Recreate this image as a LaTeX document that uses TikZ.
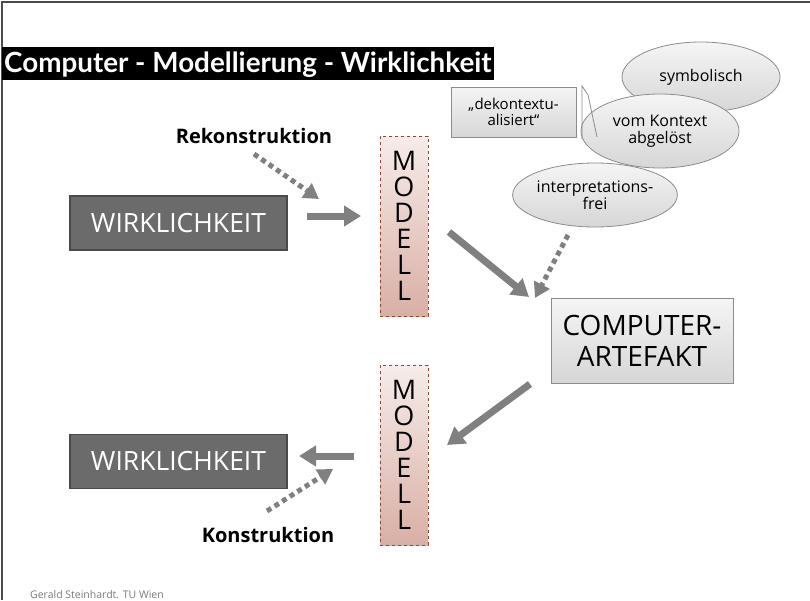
\documentclass[tikz,border=0pt]{standalone}
\usepackage{fontspec}
\setmainfont{Open Sans}
\newfontfamily\titlefont{Lato}
\newfontfamily\handfont{Open Sans}
\usetikzlibrary{arrows.meta,shapes.geometric}
\definecolor{arrowgray}{HTML}{808080}
\definecolor{darkbox}{HTML}{6B6B6B}
\definecolor{darkedge}{HTML}{4A4A4A}
\definecolor{lightedge}{HTML}{8C8C8C}
\definecolor{modtop}{HTML}{F6ECE9}
\definecolor{modbot}{HTML}{D9AFA5}
\definecolor{modedge}{HTML}{8B4A2F}
\definecolor{foot}{HTML}{7A7A7A}
\begin{document}
\begin{tikzpicture}[x=1pt,y=-1pt,
  wirkbox/.style={draw=darkedge,line width=1.5pt,fill=darkbox,text=white,minimum width=217pt,minimum height=54pt,inner sep=0pt,font=\handfont\fontsize{26.5}{28}\selectfont},
  modbox/.style={draw=modedge,dashed,line width=0.7pt,top color=modtop,bottom color=modbot,minimum width=48pt,minimum height=180pt,inner sep=0pt,align=center,font=\handfont\fontsize{27}{26}\selectfont},
  graybox/.style={draw=lightedge,line width=1pt,top color=gray!8,bottom color=gray!32,inner sep=0pt,align=center},
  bubble/.style={ellipse,draw=lightedge,line width=0.8pt,top color=gray!8,bottom color=gray!32,inner sep=0pt,align=center,font=\handfont\fontsize{16}{17}\selectfont},
  bigarrow/.style={draw=arrowgray,line width=7pt,-{Triangle[length=17pt,width=20pt]}},
  dotarrow/.style={draw=arrowgray,line width=5pt,dash pattern=on 5pt off 4pt,-{Triangle[length=15pt,width=17pt]}},
  lbl/.style={font=\handfont\bfseries\fontsize{20}{21}\selectfont,text=black,inner sep=0pt}
]
\useasboundingbox (0,0) rectangle (810,600);
\draw[gray!60!black,line width=1.2pt] (2,600) -- (2,2) -- (810,2);

% title
\fill[black] (2,47) rectangle (494,80);
\node[text=white,inner sep=0pt,anchor=west,font=\titlefont\bfseries\fontsize{27.8}{30}\selectfont] (title) at (4,64.5) {Computer - Modellierung - Wirklichkeit};

% bubbles
\node[bubble,minimum width=158pt,minimum height=70pt] (symb) at (701,77) {symbolisch};
\node[bubble,minimum width=158pt,minimum height=74pt] (kont) at (660,131) {vom Kontext\\abgelöst};
\node[bubble,minimum width=156pt,minimum height=64pt] (interp) at (595,195) {interpretations-\\frei};

% callout box
\node[graybox,minimum width=125pt,minimum height=50pt,font=\handfont\fontsize{15}{16}\selectfont] (dekon) at (513.5,112) {„dekontextu-\\alisiert“};
\coordinate (c1) at (582,86);
\coordinate (c2) at (582,139);
\coordinate (c3) at (588,95);
\coordinate (c4) at (597,137);
\draw[lightedge,line width=0.8pt] (c2) -- (c1) -- (c3) -- (c4);

% main boxes
\node[wirkbox] (wirk1) at (178.5,223) {WIRKLICHKEIT};
\node[wirkbox] (wirk2) at (178.5,461.5) {WIRKLICHKEIT};
\node[modbox] (mod1) at (404,226) {M\\O\\D\\E\\L\\L};
\node[modbox] (mod2) at (404,455) {M\\O\\D\\E\\L\\L};
\node[graybox,minimum width=182pt,minimum height=85pt,font=\handfont\fontsize{28}{31}\selectfont] (comp) at (642,340.5) {COMPUTER-\\ARTEFAKT};

% labels
\node[lbl] (rek) at (254,136) {Rekonstruktion};
\node[lbl] (kon) at (268,535) {Konstruktion};

% arrow coordinates
\coordinate (a1s) at (307,216);
\coordinate (a1e) at (361,216);
\coordinate (a2s) at (449,232);
\coordinate (a2e) at (529,297);
\coordinate (a3s) at (530,384);
\coordinate (a3e) at (447,445);
\coordinate (a4s) at (354,456);
\coordinate (a4e) at (299,456);
\coordinate (d1s) at (254,154);
\coordinate (d1e) at (319,199);
\coordinate (d2s) at (568,235);
\coordinate (d2e) at (535,298);
\coordinate (d3s) at (267,511);
\coordinate (d3e) at (333,469);

\draw[bigarrow] (a1s) -- (a1e);
\draw[bigarrow] (a2s) -- (a2e);
\draw[bigarrow] (a3s) -- (a3e);
\draw[bigarrow] (a4s) -- (a4e);
\draw[dotarrow] (d1s) -- (d1e);
\draw[dotarrow] (d2s) -- (d2e);
\draw[dotarrow] (d3s) -- (d3e);

% footer
\node[anchor=base west,inner sep=0pt,text=foot,font=\fontsize{10.5}{12}\selectfont] (footer) at (30,598) {Gerald Steinhardt. TU Wien};
\end{tikzpicture}
\end{document}
